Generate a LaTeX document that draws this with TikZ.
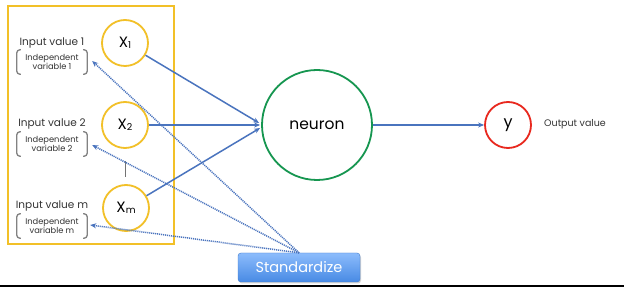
\documentclass[tikz,border=0pt]{standalone}
\usepackage{fontspec}
\setmainfont{Poppins}
\usetikzlibrary{arrows.meta,shadows}
\definecolor{gold}{RGB}{242,192,40}
\definecolor{arrowblue}{RGB}{74,116,190}
\definecolor{neurgreen}{RGB}{22,150,80}
\definecolor{outred}{RGB}{232,40,30}
\definecolor{brkgray}{RGB}{130,130,130}
\definecolor{btntop}{RGB}{140,188,252}
\definecolor{btnbot}{RGB}{72,138,228}
\definecolor{baseline}{RGB}{70,96,135}
\tikzset{
  incirc/.style={circle,draw=gold,line width=1.8pt,fill=white,minimum size=46pt,inner sep=0pt,font=\fontsize{15}{15}\selectfont},
  inlabel/.style={font=\fontsize{10.5}{12}\selectfont,text=black!80,inner sep=0pt},
  varlabel/.style={font=\fontsize{8.3}{9.8}\selectfont,text=black!80,align=center,inner sep=0pt,minimum width=70pt,minimum height=24pt},
  brk/.style={draw=brkgray,line width=1.3pt,rounded corners=3pt},
  solidarrow/.style={draw=arrowblue,line width=1.5pt,-{Stealth[length=6pt,width=5pt]}},
  dotarrow/.style={draw=arrowblue,line width=1.5pt,dash pattern=on 1.1pt off 0.9pt,-{Stealth[length=6pt,width=5pt]}},
}
\newcommand{\sbx}[1]{\raisebox{-1pt}{\fontsize{9.5}{9.5}\selectfont #1}}
\begin{document}
\begin{tikzpicture}[x=1pt,y=-1pt]
\useasboundingbox (0,0) rectangle (624,288);
\fill[white] (0,0) rectangle (624,288);
% yellow frame
\draw[gold,line width=2.2pt] (8,6) rectangle (174,244);
% input labels
\node[inlabel] (l1) at (52,43) {Input value 1};
\node[inlabel] (l2) at (52,124) {Input value 2};
\node[inlabel] (lm) at (52,206) {Input value m};
\node[varlabel] (v1) at (52,62) {Independent\\variable 1};
\node[varlabel] (v2) at (52,144) {Independent\\variable 2};
\node[varlabel] (vm) at (52,226) {Independent\\variable m};
\foreach \v in {v1,v2,vm}{
  \draw[brk] ([xshift=4pt]\v.north west) -| (\v.south west) -- ([xshift=4pt]\v.south west);
  \draw[brk] ([xshift=-4pt]\v.north east) -| (\v.south east) -- ([xshift=-4pt]\v.south east);
}
% input circles
\node[incirc] (x1) at (125,43) {X\sbx{1}};
\node[incirc] (x2) at (125,125) {X\sbx{2}};
\node[incirc] (xm) at (126,208) {X\sbx{m}};
\draw[black!55,line width=0.8pt] (x2.south) ++(0,-12pt) coordinate (d1) -- ++(0,-16pt) coordinate (d2);
% neuron and output
\node[circle,draw=neurgreen,line width=1.8pt,minimum size=110pt,inner sep=0pt,font=\fontsize{15.5}{15.5}\selectfont] (neuron) at (317,125) {neuron};
\node[circle,draw=outred,line width=1.8pt,minimum size=46pt,inner sep=0pt,font=\fontsize{16}{16}\selectfont] (y) at (508,125) {y};
\node[font=\fontsize{9.5}{11}\selectfont,text=black!80,anchor=west,inner sep=0pt] (out) at (544,124) {Output value};
% solid arrows
\draw[solidarrow] (x1) -- ([xshift=-2pt,yshift=2pt]neuron.west);
\draw[solidarrow] (x2) -- ([xshift=-1pt]neuron.west);
\draw[solidarrow] (xm) -- ([xshift=-1pt,yshift=-3pt]neuron.west);
\draw[solidarrow] (neuron) -- (y);
% standardize button
\node[rounded corners=3pt,top color=btntop,bottom color=btnbot,draw=btnbot!90!black,line width=0.4pt,
  minimum width=122pt,minimum height=29pt,inner sep=0pt,text=white,font=\fontsize{14.5}{14.5}\selectfont,
  drop shadow={opacity=0.35,shadow xshift=1pt,shadow yshift=-1.5pt}] (std) at (299,267.5) {Standardize};
% dotted arrows
\draw[dotarrow] (std.north) -- ([xshift=5pt,yshift=1pt]v1.east);
\draw[dotarrow] (std.north) -- ([xshift=5pt,yshift=-1pt]v2.east);
\draw[dotarrow] (std.north) -- ([xshift=3pt,yshift=1pt]vm.east);
% bottom line
\draw[baseline,line width=2pt] (0,286.5) -- (624,286.5);
\end{tikzpicture}
\end{document}
